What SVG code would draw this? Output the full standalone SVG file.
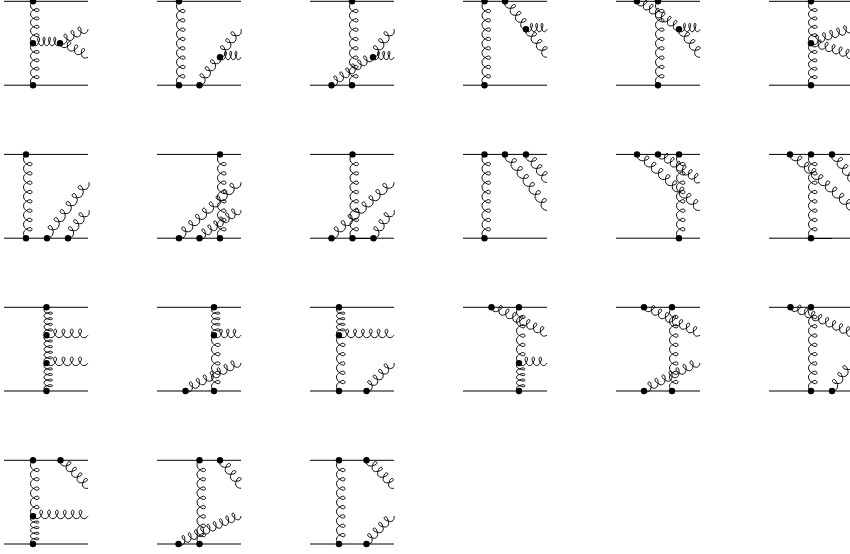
<svg xmlns="http://www.w3.org/2000/svg" width="850" height="554" viewBox="0 0 850 554">
<style>
.g{fill:none;stroke:#000;stroke-width:.95;vector-effect:non-scaling-stroke}
.q{fill:none;stroke:#000;stroke-width:1}
circle{fill:#000}
</style>
<defs>
<path id="g3" class="g" d="M0 0c1.500 1.500 3 2.500 5 2.500c2.7 0 4.600-1.600 5.600-3.400c.7-1.200 1.600-2 1.600-3.300c0-1.100-.7-1.800-1.700-1.800s-1.900.9-1.900 2.100c0 1.200.8 2.100 1.600 3.200c1.100 1.600 2.400 3.200 4.800 3.200c2.7 0 4.600-1.600 5.600-3.400c.7-1.200 1.600-2 1.600-3.300c0-1.100-.7-1.800-1.700-1.800s-1.900.9-1.900 2.100c0 1.200.8 2.100 1.600 3.200c1.100 1.600 2.400 3.200 4.800 3.200c2.7 0 4.600-1.600 5.600-3.400c.7-1.200 1.600-2 1.600-3.300c0-1.100-.7-1.800-1.700-1.800s-1.900.9-1.900 2.100c0 1.200.8 2.100 1.600 3.200c1.100 1.600 2.400 3.200 4.800 3.200c2 0 3.500-1 5-2.500"/>
<path id="g4" class="g" d="M0 0c1.500 1.500 3 2.500 5 2.500c2.7 0 4.600-1.600 5.600-3.400c.7-1.200 1.600-2 1.600-3.300c0-1.100-.7-1.800-1.700-1.800s-1.900.9-1.900 2.100c0 1.200.8 2.100 1.600 3.200c1.100 1.600 2.400 3.200 4.800 3.200c2.7 0 4.600-1.600 5.600-3.400c.7-1.200 1.600-2 1.600-3.300c0-1.100-.7-1.800-1.700-1.800s-1.900.9-1.900 2.100c0 1.200.8 2.100 1.600 3.200c1.100 1.600 2.400 3.200 4.800 3.200c2.7 0 4.600-1.600 5.600-3.400c.7-1.200 1.600-2 1.600-3.300c0-1.100-.7-1.800-1.700-1.800s-1.900.9-1.900 2.100c0 1.200.8 2.100 1.600 3.200c1.100 1.600 2.400 3.200 4.800 3.200c2.7 0 4.600-1.600 5.600-3.400c.7-1.200 1.600-2 1.600-3.300c0-1.100-.7-1.800-1.700-1.800s-1.900.9-1.900 2.100c0 1.200.8 2.100 1.600 3.200c1.100 1.600 2.400 3.200 4.800 3.200c2 0 3.500-1 5-2.500"/>
<path id="g5" class="g" d="M0 0c1.500 1.500 3 2.500 5 2.500c2.7 0 4.600-1.600 5.600-3.400c.7-1.200 1.600-2 1.600-3.300c0-1.100-.7-1.800-1.700-1.800s-1.900.9-1.900 2.100c0 1.200.8 2.100 1.600 3.200c1.100 1.600 2.400 3.200 4.800 3.200c2.7 0 4.600-1.600 5.600-3.400c.7-1.200 1.600-2 1.600-3.300c0-1.100-.7-1.800-1.700-1.800s-1.900.9-1.900 2.100c0 1.200.8 2.100 1.600 3.200c1.100 1.600 2.400 3.200 4.800 3.200c2.7 0 4.600-1.600 5.600-3.400c.7-1.200 1.600-2 1.600-3.300c0-1.100-.7-1.800-1.700-1.800s-1.900.9-1.900 2.100c0 1.200.8 2.100 1.600 3.200c1.100 1.600 2.400 3.200 4.800 3.200c2.7 0 4.600-1.600 5.600-3.400c.7-1.200 1.600-2 1.600-3.300c0-1.100-.7-1.800-1.700-1.800s-1.900.9-1.900 2.100c0 1.200.8 2.100 1.600 3.200c1.100 1.600 2.400 3.200 4.800 3.200c2.7 0 4.600-1.600 5.600-3.400c.7-1.200 1.600-2 1.600-3.300c0-1.100-.7-1.800-1.700-1.800s-1.900.9-1.900 2.100c0 1.200.8 2.100 1.600 3.200c1.100 1.600 2.400 3.200 4.800 3.200c2 0 3.500-1 5-2.500"/>
<path id="g6" class="g" d="M0 0c1.500 1.500 3 2.500 5 2.500c2.7 0 4.600-1.600 5.600-3.400c.7-1.200 1.600-2 1.600-3.300c0-1.100-.7-1.800-1.700-1.800s-1.900.9-1.900 2.100c0 1.200.8 2.100 1.600 3.200c1.100 1.600 2.400 3.200 4.800 3.200c2.7 0 4.600-1.600 5.600-3.400c.7-1.200 1.600-2 1.600-3.300c0-1.100-.7-1.800-1.700-1.800s-1.900.9-1.900 2.100c0 1.200.8 2.100 1.600 3.200c1.100 1.600 2.400 3.200 4.800 3.200c2.7 0 4.600-1.600 5.600-3.400c.7-1.200 1.600-2 1.600-3.300c0-1.100-.7-1.800-1.700-1.800s-1.900.9-1.900 2.100c0 1.200.8 2.100 1.600 3.200c1.100 1.600 2.400 3.200 4.800 3.200c2.7 0 4.600-1.600 5.600-3.400c.7-1.200 1.600-2 1.600-3.300c0-1.100-.7-1.800-1.700-1.800s-1.900.9-1.900 2.100c0 1.200.8 2.100 1.600 3.200c1.100 1.600 2.400 3.200 4.800 3.200c2.7 0 4.600-1.600 5.600-3.400c.7-1.200 1.600-2 1.600-3.300c0-1.100-.7-1.800-1.700-1.800s-1.900.9-1.900 2.100c0 1.200.8 2.100 1.600 3.200c1.100 1.600 2.400 3.200 4.800 3.200c2.7 0 4.600-1.600 5.600-3.400c.7-1.200 1.600-2 1.600-3.300c0-1.100-.7-1.800-1.700-1.800s-1.900.9-1.900 2.100c0 1.200.8 2.100 1.600 3.200c1.100 1.600 2.400 3.200 4.800 3.200c2 0 3.500-1 5-2.500"/>
<path id="g7" class="g" d="M0 0c1.500 1.500 3 2.500 5 2.500c2.7 0 4.600-1.600 5.600-3.400c.7-1.200 1.600-2 1.600-3.300c0-1.100-.7-1.800-1.700-1.800s-1.900.9-1.900 2.100c0 1.200.8 2.100 1.600 3.200c1.100 1.600 2.400 3.200 4.800 3.200c2.7 0 4.600-1.600 5.600-3.400c.7-1.200 1.600-2 1.600-3.300c0-1.100-.7-1.800-1.700-1.800s-1.900.9-1.900 2.100c0 1.200.8 2.100 1.600 3.200c1.100 1.600 2.400 3.200 4.800 3.200c2.7 0 4.600-1.600 5.600-3.400c.7-1.200 1.600-2 1.600-3.300c0-1.100-.7-1.800-1.700-1.800s-1.900.9-1.900 2.100c0 1.200.8 2.100 1.600 3.200c1.100 1.600 2.400 3.200 4.800 3.200c2.7 0 4.600-1.600 5.600-3.400c.7-1.200 1.600-2 1.600-3.300c0-1.100-.7-1.800-1.700-1.800s-1.900.9-1.900 2.100c0 1.200.8 2.100 1.600 3.200c1.100 1.600 2.400 3.200 4.800 3.200c2.7 0 4.600-1.600 5.600-3.400c.7-1.200 1.600-2 1.600-3.300c0-1.100-.7-1.800-1.700-1.800s-1.900.9-1.900 2.100c0 1.200.8 2.100 1.600 3.200c1.100 1.600 2.400 3.200 4.800 3.200c2.7 0 4.600-1.600 5.600-3.400c.7-1.200 1.600-2 1.600-3.300c0-1.100-.7-1.800-1.700-1.800s-1.900.9-1.900 2.100c0 1.200.8 2.100 1.600 3.200c1.100 1.600 2.400 3.200 4.800 3.200c2.7 0 4.600-1.600 5.600-3.400c.7-1.200 1.600-2 1.600-3.300c0-1.100-.7-1.800-1.700-1.800s-1.900.9-1.900 2.100c0 1.200.8 2.100 1.600 3.200c1.100 1.600 2.400 3.200 4.800 3.200c2 0 3.500-1 5-2.500"/>
<path id="g8" class="g" d="M0 0c1.500 1.500 3 2.500 5 2.500c2.7 0 4.600-1.600 5.600-3.400c.7-1.200 1.600-2 1.600-3.300c0-1.100-.7-1.800-1.700-1.800s-1.900.9-1.900 2.100c0 1.200.8 2.100 1.600 3.200c1.100 1.600 2.400 3.200 4.800 3.200c2.7 0 4.600-1.600 5.600-3.400c.7-1.200 1.600-2 1.600-3.300c0-1.100-.7-1.800-1.700-1.800s-1.900.9-1.900 2.100c0 1.200.8 2.100 1.600 3.200c1.100 1.600 2.400 3.200 4.800 3.200c2.7 0 4.600-1.600 5.600-3.400c.7-1.200 1.600-2 1.600-3.300c0-1.100-.7-1.800-1.700-1.800s-1.900.9-1.900 2.100c0 1.200.8 2.100 1.600 3.200c1.100 1.600 2.400 3.200 4.800 3.200c2.7 0 4.600-1.600 5.600-3.400c.7-1.200 1.600-2 1.600-3.300c0-1.100-.7-1.800-1.700-1.800s-1.900.9-1.900 2.100c0 1.200.8 2.100 1.600 3.200c1.100 1.600 2.400 3.200 4.800 3.200c2.7 0 4.600-1.600 5.600-3.400c.7-1.200 1.600-2 1.600-3.300c0-1.100-.7-1.800-1.700-1.800s-1.900.9-1.900 2.100c0 1.200.8 2.100 1.600 3.200c1.100 1.600 2.400 3.200 4.800 3.200c2.7 0 4.600-1.600 5.600-3.400c.7-1.200 1.600-2 1.600-3.300c0-1.100-.7-1.800-1.700-1.800s-1.900.9-1.900 2.100c0 1.200.8 2.100 1.600 3.200c1.100 1.600 2.400 3.200 4.800 3.200c2.7 0 4.600-1.600 5.600-3.400c.7-1.200 1.600-2 1.600-3.300c0-1.100-.7-1.800-1.700-1.800s-1.900.9-1.900 2.100c0 1.200.8 2.100 1.600 3.200c1.100 1.600 2.400 3.200 4.800 3.200c2.7 0 4.600-1.600 5.600-3.400c.7-1.200 1.600-2 1.600-3.300c0-1.100-.7-1.800-1.700-1.800s-1.900.9-1.900 2.100c0 1.200.8 2.100 1.600 3.200c1.100 1.600 2.400 3.200 4.800 3.200c2 0 3.500-1 5-2.500"/>
<path id="g9" class="g" d="M0 0c1.500 1.500 3 2.500 5 2.500c2.7 0 4.600-1.600 5.600-3.400c.7-1.200 1.600-2 1.600-3.300c0-1.100-.7-1.800-1.700-1.800s-1.900.9-1.900 2.100c0 1.200.8 2.100 1.600 3.200c1.100 1.600 2.400 3.200 4.800 3.200c2.7 0 4.600-1.600 5.600-3.400c.7-1.200 1.600-2 1.600-3.300c0-1.100-.7-1.800-1.700-1.800s-1.900.9-1.900 2.100c0 1.200.8 2.100 1.600 3.200c1.100 1.600 2.400 3.200 4.800 3.200c2.7 0 4.600-1.600 5.600-3.400c.7-1.200 1.600-2 1.600-3.300c0-1.100-.7-1.800-1.700-1.800s-1.900.9-1.900 2.100c0 1.200.8 2.100 1.600 3.200c1.100 1.600 2.400 3.200 4.800 3.200c2.7 0 4.600-1.600 5.600-3.400c.7-1.200 1.600-2 1.600-3.300c0-1.100-.7-1.800-1.700-1.800s-1.900.9-1.900 2.100c0 1.200.8 2.100 1.600 3.200c1.100 1.600 2.400 3.200 4.800 3.200c2.7 0 4.600-1.600 5.600-3.400c.7-1.200 1.600-2 1.600-3.300c0-1.100-.7-1.800-1.700-1.800s-1.900.9-1.900 2.100c0 1.200.8 2.100 1.600 3.200c1.100 1.600 2.400 3.200 4.800 3.200c2.7 0 4.600-1.600 5.600-3.400c.7-1.200 1.600-2 1.600-3.300c0-1.100-.7-1.800-1.700-1.800s-1.900.9-1.900 2.100c0 1.200.8 2.100 1.600 3.200c1.100 1.600 2.400 3.200 4.800 3.200c2.7 0 4.600-1.600 5.600-3.400c.7-1.200 1.600-2 1.600-3.300c0-1.100-.7-1.800-1.700-1.800s-1.900.9-1.900 2.100c0 1.200.8 2.100 1.600 3.200c1.100 1.600 2.400 3.200 4.800 3.200c2.7 0 4.600-1.600 5.600-3.400c.7-1.200 1.600-2 1.600-3.300c0-1.100-.7-1.800-1.700-1.800s-1.900.9-1.900 2.100c0 1.200.8 2.100 1.600 3.200c1.100 1.600 2.400 3.200 4.800 3.200c2.7 0 4.600-1.600 5.600-3.400c.7-1.200 1.600-2 1.600-3.300c0-1.100-.7-1.800-1.700-1.800s-1.900.9-1.900 2.100c0 1.200.8 2.100 1.600 3.200c1.100 1.600 2.400 3.200 4.800 3.200c2 0 3.500-1 5-2.500"/>
</defs>
<g id="connectors">
<g id="quark-lines" class="q">
<path d="M4 1.300H88M4 85.200H88M157 1.300H241M157 85.200H241M310 1.300H394M310 85.200H394M463 1.300H547M463 85.200H547M616 1.300H700M616 85.200H700M769 1.300H850M769 85.200H850"/>
<path d="M4 154.400H88M4 238.200H88M157 154.400H241M157 238.200H241M310 154.400H394M310 238.200H394M463 154.400H547M463 238.200H547M616 154.400H700M616 238.200H700M769 154.400H850M769 238.200H850M811 238.500H832M352 238.500H373"/>
<path d="M4 307.300H88M4 391H88M157 307.300H241M157 391H241M310 307.300H394M310 391H394M463 307.300H547M463 391H547M616 307.300H700M616 391H700M769 307.300H850M769 391H850"/>
<path d="M4 460.300H88M4 544H88M157 460.300H241M157 544H241M310 460.300H394M310 544H394"/>
</g>
<g id="gluons-1">
<use href="#g4" transform="translate(33 1.300) rotate(90) scale(.84 1)"/>
<use href="#g4" transform="translate(33 43.200) rotate(90) scale(.84 1)"/>
<use href="#g4" transform="translate(33 43.200) scale(.54 1)"/>
<use href="#g3" transform="translate(60 43.200) rotate(-26.570) scale(.783 1)"/>
<use href="#g3" transform="translate(60 43.200) rotate(26.570) scale(.783 1)"/>
</g>
<g id="gluons-2">
<use href="#g8" transform="translate(179 1.300) rotate(90) scale(.933 1)"/>
<use href="#g3" transform="translate(199.500 85.200) rotate(-53.130) scale(.875 1)"/>
<use href="#g3" transform="translate(220 57.200) rotate(-53.130) scale(.875 1)"/>
<use href="#g3" transform="translate(220 57.200) scale(.525 1)"/>
</g>
<g id="gluons-3">
<use href="#g8" transform="translate(352 1.300) rotate(90) scale(.933 1)"/>
<use href="#g6" transform="translate(331.500 85.200) rotate(-34) scale(.715 1)"/>
<use href="#g3" transform="translate(373 57.200) rotate(-53.130) scale(.875 1)"/>
<use href="#g3" transform="translate(373 57.200) scale(.525 1)"/>
</g>
<g id="gluons-4">
<use href="#g8" transform="translate(484.500 1.300) rotate(90) scale(.933 1)"/>
<use href="#g3" transform="translate(505 1.300) rotate(53.130) scale(.875 1)"/>
<use href="#g3" transform="translate(526 29.300) scale(.525 1)"/>
<use href="#g3" transform="translate(526 29.300) rotate(53.130) scale(.875 1)"/>
</g>
<g id="gluons-5">
<use href="#g8" transform="translate(658 1.300) rotate(90) scale(.933 1)"/>
<use href="#g6" transform="translate(637 1.300) rotate(33.690) scale(.72 1)"/>
<use href="#g3" transform="translate(679 29.300) scale(.525 1)"/>
<use href="#g3" transform="translate(679 29.300) rotate(53.130) scale(.875 1)"/>
</g>
<g id="gluons-6">
<use href="#g4" transform="translate(811 1.300) rotate(90) scale(.84 1)"/>
<use href="#g4" transform="translate(811 43.200) rotate(90) scale(.84 1)"/>
<use href="#g5" transform="translate(811 43.200) rotate(-18.430) scale(.738 1)"/>
<use href="#g5" transform="translate(811 43.200) rotate(18.430) scale(.738 1)"/>
</g>
<g id="gluons-7">
<use href="#g8" transform="translate(26 154.400) rotate(90) scale(.931 1)"/>
<use href="#g6" transform="translate(47 238.200) rotate(-53.130) scale(1 1)"/>
<use href="#g3" transform="translate(68 238.200) rotate(-53.130) scale(.875 1)"/>
</g>
<g id="gluons-8">
<use href="#g8" transform="translate(220 154.400) rotate(90) scale(.931 1)"/>
<use href="#g8" transform="translate(179 238.200) rotate(-42.090) scale(.928 1)"/>
<use href="#g6" transform="translate(199.500 238.200) rotate(-34) scale(.715 1)"/>
</g>
<g id="gluons-9">
<use href="#g8" transform="translate(352.500 154.400) rotate(90) scale(.931 1)"/>
<use href="#g8" transform="translate(331.500 238.200) rotate(-41.860) scale(.932 1)"/>
<use href="#g3" transform="translate(373.500 238.200) rotate(-53.800) scale(.87 1)"/>
</g>
<g id="gluons-10">
<use href="#g8" transform="translate(484.500 154.400) rotate(90) scale(.931 1)"/>
<use href="#g6" transform="translate(505 154.400) rotate(53.130) scale(1 1)"/>
<use href="#g3" transform="translate(526 154.400) rotate(53.130) scale(.875 1)"/>
</g>
<g id="gluons-11">
<use href="#g8" transform="translate(679 154.400) rotate(90) scale(.931 1)"/>
<use href="#g8" transform="translate(637 154.400) rotate(41.630) scale(.936 1)"/>
<use href="#g6" transform="translate(658 154.400) rotate(33.690) scale(.721 1)"/>
</g>
<g id="gluons-12">
<use href="#g8" transform="translate(811 154.400) rotate(90) scale(.931 1)"/>
<use href="#g8" transform="translate(790 154.400) rotate(41.630) scale(.936 1)"/>
<use href="#g3" transform="translate(832 154.400) rotate(53.130) scale(.875 1)"/>
</g>
<g id="gluons-13">
<use href="#g4" transform="translate(46.500 307.300) rotate(90) scale(.56 1)"/>
<use href="#g4" transform="translate(46.500 335.200) rotate(90) scale(.56 1)"/>
<use href="#g4" transform="translate(46.500 363.100) rotate(90) scale(.56 1)"/>
<use href="#g4" transform="translate(46.500 335.200) scale(.83 1)"/>
<use href="#g4" transform="translate(46.500 363.100) scale(.83 1)"/>
</g>
<g id="gluons-14">
<use href="#g4" transform="translate(214 307.300) rotate(90) scale(.56 1)"/>
<use href="#g5" transform="translate(214 335.200) rotate(90) scale(.93 1)"/>
<use href="#g3" transform="translate(214 335.200) scale(.675 1)"/>
<use href="#g7" transform="translate(185.500 391) rotate(-26.770) scale(.777 1)"/>
</g>
<g id="gluons-15">
<use href="#g4" transform="translate(339 307.300) rotate(90) scale(.56 1)"/>
<use href="#g5" transform="translate(339 335.200) rotate(90) scale(.93 1)"/>
<use href="#g6" transform="translate(339 335.200) scale(.786 1)"/>
<use href="#g4" transform="translate(366.500 391) rotate(-45.500) scale(.785 1)"/>
</g>
<g id="gluons-16">
<use href="#g7" transform="translate(491.500 307.300) rotate(26.770) scale(.777 1)"/>
<use href="#g5" transform="translate(519 307.300) rotate(90) scale(.93 1)"/>
<use href="#g4" transform="translate(519 363.100) rotate(90) scale(.56 1)"/>
<use href="#g3" transform="translate(519 363.100) scale(.7 1)"/>
</g>
<g id="gluons-17">
<use href="#g7" transform="translate(644 307.300) rotate(26.570) scale(.783 1)"/>
<use href="#g8" transform="translate(672 307.300) rotate(90) scale(.93 1)"/>
<use href="#g7" transform="translate(644 391) rotate(-26.570) scale(.783 1)"/>
</g>
<g id="gluons-18">
<use href="#g8" transform="translate(790.500 307.300) rotate(24.130) scale(.761 1)"/>
<use href="#g8" transform="translate(811 307.300) rotate(90) scale(.93 1)"/>
<use href="#g3" transform="translate(832 391) rotate(-53.130) scale(.875 1)"/>
</g>
<g id="gluons-19">
<use href="#g5" transform="translate(33 460.300) rotate(90) scale(.93 1)"/>
<use href="#g4" transform="translate(33 516.200) rotate(90) scale(.56 1)"/>
<use href="#g6" transform="translate(33 516.200) scale(.786 1)"/>
<use href="#g4" transform="translate(60.500 460.300) rotate(45.500) scale(.785 1)"/>
</g>
<g id="gluons-20">
<use href="#g8" transform="translate(199.500 460.300) rotate(90) scale(.93 1)"/>
<use href="#g3" transform="translate(220 460.300) rotate(53.130) scale(.875 1)"/>
<use href="#g9" transform="translate(178.500 544) rotate(-24.130) scale(.685 1)"/>
</g>
<g id="gluons-21">
<use href="#g8" transform="translate(339 460.300) rotate(90) scale(.93 1)"/>
<use href="#g4" transform="translate(366.500 460.300) rotate(45.500) scale(.785 1)"/>
<use href="#g4" transform="translate(366.500 544) rotate(-45.500) scale(.785 1)"/>
</g>
</g>
<g id="diagram-1"><circle cx="33" cy="1.300" r="3.200"/><circle cx="33" cy="43.200" r="3.200"/><circle cx="33" cy="85.200" r="3.200"/><circle cx="60" cy="43.200" r="3.200"/></g>
<g id="diagram-2"><circle cx="179" cy="1.300" r="3.200"/><circle cx="179" cy="85.200" r="3.200"/><circle cx="199.500" cy="85.200" r="3.200"/><circle cx="220" cy="57.200" r="3.200"/></g>
<g id="diagram-3"><circle cx="352" cy="1.300" r="3.200"/><circle cx="352" cy="85.200" r="3.200"/><circle cx="331.500" cy="85.200" r="3.200"/><circle cx="373" cy="57.200" r="3.200"/></g>
<g id="diagram-4"><circle cx="484.500" cy="1.300" r="3.200"/><circle cx="505" cy="1.300" r="3.200"/><circle cx="484.500" cy="85.200" r="3.200"/><circle cx="526" cy="29.300" r="3.200"/></g>
<g id="diagram-5"><circle cx="637" cy="1.300" r="3.200"/><circle cx="658" cy="1.300" r="3.200"/><circle cx="658" cy="85.200" r="3.200"/><circle cx="679" cy="29.300" r="3.200"/></g>
<g id="diagram-6"><circle cx="811" cy="1.300" r="3.200"/><circle cx="811" cy="43.200" r="3.200"/><circle cx="811" cy="85.200" r="3.200"/></g>
<g id="diagram-7"><circle cx="26" cy="154.400" r="3.200"/><circle cx="26" cy="238.200" r="3.200"/><circle cx="47" cy="238.200" r="3.200"/><circle cx="68" cy="238.200" r="3.200"/></g>
<g id="diagram-8"><circle cx="220" cy="154.400" r="3.200"/><circle cx="220" cy="238.200" r="3.200"/><circle cx="179" cy="238.200" r="3.200"/><circle cx="199.500" cy="238.200" r="3.200"/></g>
<g id="diagram-9"><circle cx="352.500" cy="154.400" r="3.200"/><circle cx="352.500" cy="238.200" r="3.200"/><circle cx="331.500" cy="238.200" r="3.200"/><circle cx="373.500" cy="238.200" r="3.200"/></g>
<g id="diagram-10"><circle cx="484.500" cy="154.400" r="3.200"/><circle cx="505" cy="154.400" r="3.200"/><circle cx="526" cy="154.400" r="3.200"/><circle cx="484.500" cy="238.200" r="3.200"/></g>
<g id="diagram-11"><circle cx="637" cy="154.400" r="3.200"/><circle cx="658" cy="154.400" r="3.200"/><circle cx="679" cy="154.400" r="3.200"/><circle cx="679" cy="238.200" r="3.200"/></g>
<g id="diagram-12"><circle cx="790" cy="154.400" r="3.200"/><circle cx="811" cy="154.400" r="3.200"/><circle cx="832" cy="154.400" r="3.200"/><circle cx="811" cy="238.200" r="3.200"/></g>
<g id="diagram-13"><circle cx="46.500" cy="307.300" r="3.200"/><circle cx="46.500" cy="335.200" r="3.200"/><circle cx="46.500" cy="363.100" r="3.200"/><circle cx="46.500" cy="391" r="3.200"/></g>
<g id="diagram-14"><circle cx="214" cy="307.300" r="3.200"/><circle cx="214" cy="335.200" r="3.200"/><circle cx="214" cy="391" r="3.200"/><circle cx="185.500" cy="391" r="3.200"/></g>
<g id="diagram-15"><circle cx="339" cy="307.300" r="3.200"/><circle cx="339" cy="335.200" r="3.200"/><circle cx="339" cy="391" r="3.200"/><circle cx="366.500" cy="391" r="3.200"/></g>
<g id="diagram-16"><circle cx="491.500" cy="307.300" r="3.200"/><circle cx="519" cy="307.300" r="3.200"/><circle cx="519" cy="363.100" r="3.200"/><circle cx="519" cy="391" r="3.200"/></g>
<g id="diagram-17"><circle cx="644" cy="307.300" r="3.200"/><circle cx="672" cy="307.300" r="3.200"/><circle cx="644" cy="391" r="3.200"/><circle cx="672" cy="391" r="3.200"/></g>
<g id="diagram-18"><circle cx="790.500" cy="307.300" r="3.200"/><circle cx="811" cy="307.300" r="3.200"/><circle cx="811" cy="391" r="3.200"/><circle cx="832" cy="391" r="3.200"/></g>
<g id="diagram-19"><circle cx="33" cy="460.300" r="3.200"/><circle cx="60.500" cy="460.300" r="3.200"/><circle cx="33" cy="516.200" r="3.200"/><circle cx="33" cy="544" r="3.200"/></g>
<g id="diagram-20"><circle cx="199.500" cy="460.300" r="3.200"/><circle cx="220" cy="460.300" r="3.200"/><circle cx="178.500" cy="544" r="3.200"/><circle cx="199.500" cy="544" r="3.200"/></g>
<g id="diagram-21"><circle cx="339" cy="460.300" r="3.200"/><circle cx="366.500" cy="460.300" r="3.200"/><circle cx="339" cy="544" r="3.200"/><circle cx="366.500" cy="544" r="3.200"/></g>
</svg>
